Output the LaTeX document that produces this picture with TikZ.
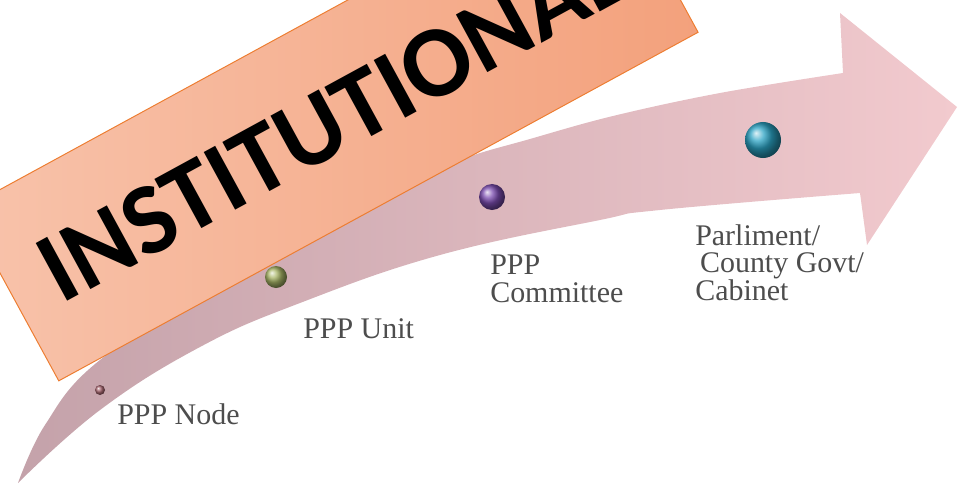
\documentclass[tikz,border=0pt]{standalone}
\usepackage{fontspec}
\setmainfont{Liberation Serif}
\newfontfamily\stampfont{Carlito}
\usepackage{xcolor}
\usetikzlibrary{positioning}
\definecolor{stampLight}{HTML}{F8C3AB}
\definecolor{stampDark}{HTML}{F3A17C}
\definecolor{stampEdge}{HTML}{ED7D31}
\definecolor{bandDark}{HTML}{C4A2AA}
\definecolor{bandMid}{HTML}{E2C2C6}
\definecolor{bandLight}{HTML}{F2CACE}
\definecolor{labGray}{HTML}{4D4D4D}
\definecolor{dotRose}{HTML}{A86670}
\definecolor{dotOlive}{HTML}{A8B566}
\definecolor{dotViolet}{HTML}{7B4CB0}
\definecolor{dotCyan}{HTML}{2BA3C4}

\begin{document}
\begin{tikzpicture}[
    x=0.025cm, y=-0.025cm,
    stamp/.style={draw=stampEdge, line width=0.7pt, left color=stampLight, right color=stampDark, rotate=28.6, minimum width=18.2cm, minimum height=4.9cm, inner sep=0pt, font=\stampfont\bfseries\fontsize{72}{72}\selectfont},
    stagedot/.style={circle, draw=none, inner sep=0pt, ball color=#1},
    lab/.style={anchor=north west, inner sep=0pt, align=left, text=labGray, font=\fontsize{21.3}{19.7}\selectfont}
]
\useasboundingbox (0,0) rectangle (960,486);
\clip (0,0) rectangle (960,486);

\shade[left color=bandDark, middle color=bandMid, right color=bandLight]
    (18,483) -- plot[smooth, tension=0.6] coordinates {(18,483) (45,425) (100,360) (250,262) (380,196) (460,160) (530,139) (613,116) (720,93) (843,73)}
    -- (840,13) -- (957,107) -- (867,245) -- (860,193)
    -- plot[smooth, tension=0.7] coordinates {(860,193) (660,210) (600,220) (440,255) (300,303) (200,347) (100,410) (18,483)}
    -- cycle;

\node[stagedot=dotRose, minimum size=0.25cm] (dNode) at (100,390) {};
\node[stagedot=dotOlive, minimum size=0.55cm] (dUnit) at (276,277) {};
\node[stagedot=dotViolet, minimum size=0.65cm] (dCommittee) at (492,197) {};
\node[stagedot=dotCyan, minimum size=0.9cm] (dParl) at (763,140) {};

\node[lab] (lNode) at (117,403) {PPP Node};
\node[lab] (lUnit) at (303,318) {PPP Unit};
\node[lab] (lCommittee) at (490,255) {PPP\\Committee};
\node[lab] (lParl) at (695,224) {Parliment/\\\hspace*{0.12cm}County Govt/\\Cabinet};

\node[stamp] (banner) at (331.5,120.5) {INSTITUTIONAL};
\end{tikzpicture}
\end{document}
